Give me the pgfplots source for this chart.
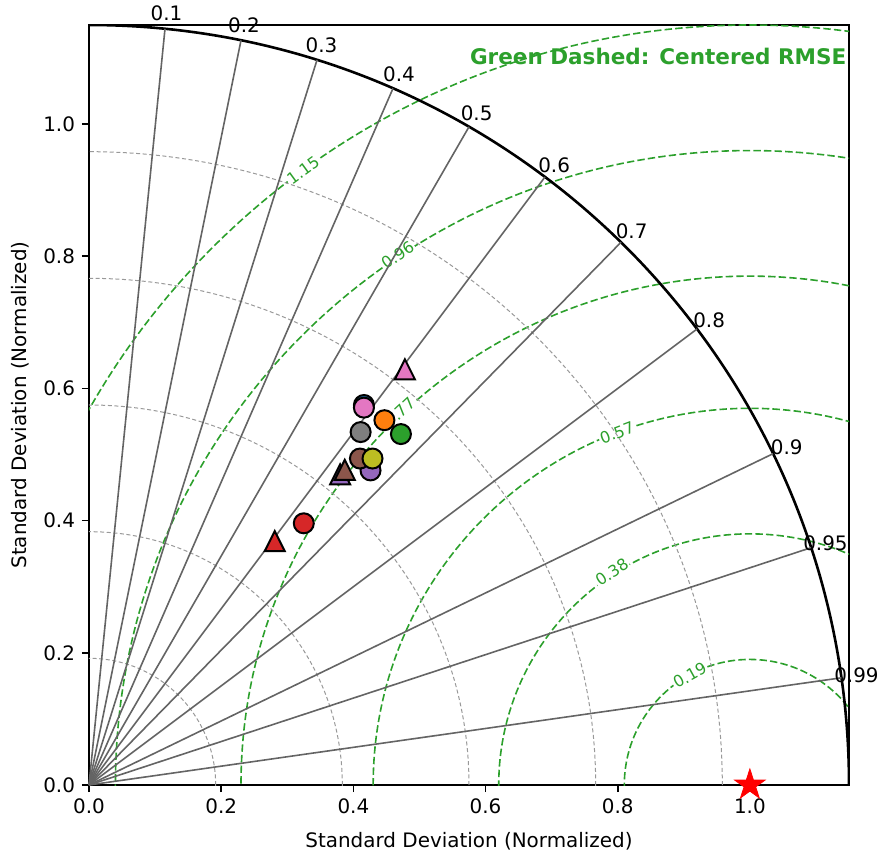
\documentclass[border=0pt]{standalone}
\usepackage{fontspec}
\setmainfont{DejaVu Sans}
\usepackage{pgfplots}
\pgfplotsset{compat=1.18}

\definecolor{tabblue}{RGB}{31,119,180}
\definecolor{taborange}{RGB}{255,127,14}
\definecolor{tabgreen}{RGB}{44,160,44}
\definecolor{tabred}{RGB}{214,39,40}
\definecolor{tabpurple}{RGB}{148,103,189}
\definecolor{tabbrown}{RGB}{140,86,75}
\definecolor{tabpink}{RGB}{227,119,194}
\definecolor{tabgray}{RGB}{127,127,127}
\definecolor{tabolive}{RGB}{188,189,34}
\definecolor{rmse}{RGB}{44,160,44}
\definecolor{raycol}{RGB}{100,100,100}

% matplotlib-like triangle and filled star
\pgfdeclareplotmark{mtri}{%
  \pgfpathmoveto{\pgfpoint{0pt}{\pgfplotmarksize}}%
  \pgfpathlineto{\pgfpoint{-\pgfplotmarksize}{-\pgfplotmarksize}}%
  \pgfpathlineto{\pgfpoint{\pgfplotmarksize}{-\pgfplotmarksize}}%
  \pgfpathclose
  \pgfusepathqfillstroke}
\pgfdeclareplotmark{fstar}{%
  \pgfpathmoveto{\pgfpointpolar{90}{\pgfplotmarksize}}%
  \pgfpathlineto{\pgfpointpolar{126}{0.382\pgfplotmarksize}}%
  \pgfpathlineto{\pgfpointpolar{162}{\pgfplotmarksize}}%
  \pgfpathlineto{\pgfpointpolar{198}{0.382\pgfplotmarksize}}%
  \pgfpathlineto{\pgfpointpolar{234}{\pgfplotmarksize}}%
  \pgfpathlineto{\pgfpointpolar{270}{0.382\pgfplotmarksize}}%
  \pgfpathlineto{\pgfpointpolar{306}{\pgfplotmarksize}}%
  \pgfpathlineto{\pgfpointpolar{342}{0.382\pgfplotmarksize}}%
  \pgfpathlineto{\pgfpointpolar{18}{\pgfplotmarksize}}%
  \pgfpathlineto{\pgfpointpolar{54}{0.382\pgfplotmarksize}}%
  \pgfpathclose
  \pgfusepathqfillstroke}

\pgfplotsset{
  circ/.style={only marks, mark=*, mark size=5bp,
    mark options={draw=black, line width=1bp, fill=#1}},
  tri/.style={only marks, mark=mtri, mark size=5bp,
    mark options={draw=black, line width=1bp, fill=#1}},
}

\begin{document}
\begin{tikzpicture}
\begin{axis}[
  scale only axis,
  width=380bp, height=380bp,
  xmin=0, xmax=1.15, ymin=0, ymax=1.15,
  xtick={0,0.2,0.4,0.6,0.8,1.0},
  ytick={0,0.2,0.4,0.6,0.8,1.0},
  /pgf/number format/.cd, fixed, fixed zerofill, precision=1, assume math mode=true,
  /pgfplots/.cd,
  tick pos=left, tick align=outside,
  major tick length=3.5bp,
  tick style={black, line width=0.8bp},
  axis line style={line width=0.8bp},
  ticklabel style={font=\fontsize{10}{12}\selectfont},
  label style={font=\fontsize{10}{12}\selectfont},
  xlabel={Standard Deviation (Normalized)},
  ylabel={Standard Deviation (Normalized)},
  xlabel style={yshift=-2.5bp},
  clip=false,
]

\begin{scope}
\clip (rel axis cs:0,0) rectangle (rel axis cs:1,1);
% centred RMSE contours
\pgfplotsinvokeforeach{0.19,0.38,0.57,0.77,0.96,1.15}{
  \draw[rmse, line width=0.8bp, dash pattern=on 3.7bp off 1.6bp] (axis cs:1,0) circle[radius=#1];
}
\end{scope}

\begin{scope}[rmse, font=\fontsize{8}{9}\selectfont]
\node[fill=white, inner sep=0.6bp, rotate=36] at (axis cs:0.324,0.930) {1.15};
\node[fill=white, inner sep=0.6bp, rotate=34] at (axis cs:0.467,0.802) {0.96};
\node[fill=white, inner sep=0.6bp, rotate=43] at (axis cs:0.470,0.564) {0.77};
\node[fill=white, inner sep=0.6bp, rotate=21] at (axis cs:0.799,0.533) {0.57};
\node[fill=white, inner sep=0.6bp, rotate=33] at (axis cs:0.791,0.322) {0.38};
\node[fill=white, inner sep=0.6bp, rotate=29] at (axis cs:0.909,0.166) {0.19};
\end{scope}

\begin{scope}
\clip (rel axis cs:0,0) rectangle (rel axis cs:1,1);
% standard deviation arcs
\pgfplotsinvokeforeach{0.1917,0.3833,0.575,0.7667,0.9583}{
  \draw[gray!80, line width=0.5bp, dash pattern=on 2bp off 1.3bp] (axis cs:0,0) circle[radius=#1];
}
\draw[black, line width=1.3bp] (axis cs:0,0) circle[radius=1.15];
\end{scope}

% correlation rays and labels
\pgfplotsinvokeforeach{0.1,0.2,0.3,0.4,0.5,0.6,0.7,0.8,0.9,0.95,0.99}{
  \draw[raycol, line width=0.8bp] (axis cs:0,0) -- (axis cs:{1.15*#1},{1.15*sqrt(1-#1*#1)});
  \node[font=\fontsize{10}{12}\selectfont, inner sep=0pt] at (axis cs:{1.173*#1},{1.173*sqrt(1-#1*#1)}) {#1};
}

\node[anchor=east, text=rmse, font=\bfseries\fontsize{10.8}{13}\selectfont, inner sep=0pt]
  at (rel axis cs:0.997,0.958) {Green Dashed: Centered RMSE};

% models
\addplot[circ=tabblue]   coordinates {(0.416,0.575)};
\addplot[circ=taborange] coordinates {(0.447,0.552)};
\addplot[circ=tabgreen]  coordinates {(0.472,0.531)};
\addplot[circ=tabred]    coordinates {(0.325,0.396)};
\addplot[circ=tabpurple] coordinates {(0.426,0.476)};
\addplot[circ=tabbrown]  coordinates {(0.410,0.494)};
\addplot[circ=tabpink]   coordinates {(0.416,0.571)};
\addplot[circ=tabgray]   coordinates {(0.411,0.534)};
\addplot[circ=tabolive]  coordinates {(0.429,0.494)};

\addplot[tri=tabred]    coordinates {(0.281,0.369)};
\addplot[tri=tabpurple] coordinates {(0.380,0.470)};
\addplot[tri=tabbrown]  coordinates {(0.387,0.477)};
\addplot[tri=tabpink]   coordinates {(0.478,0.629)};

% reference
\addplot[only marks, mark=fstar, mark size=8bp, mark options={draw=red, fill=red}] coordinates {(1,0)};

\end{axis}
% page margins as in the reference
\pgfresetboundingbox
\path ([xshift=-44.5bp,yshift=-36.5bp]current axis.south west)
  rectangle ([xshift=15bp,yshift=12.5bp]current axis.north east);
\end{tikzpicture}
\end{document}
